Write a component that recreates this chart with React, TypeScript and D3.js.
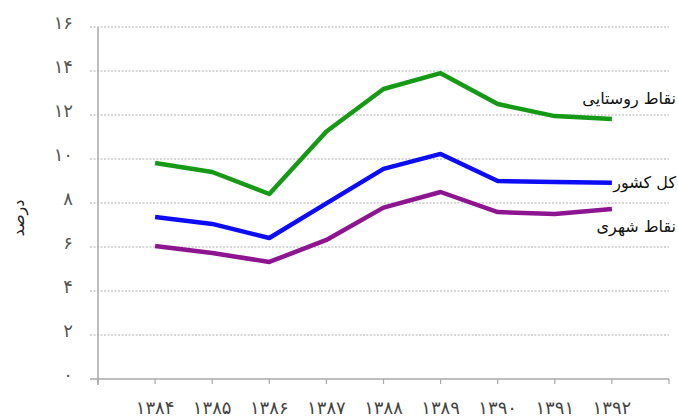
import React from "react";
import * as d3 from "d3";

const years = ["۱۳۸۴", "۱۳۸۵", "۱۳۸۶", "۱۳۸۷", "۱۳۸۸", "۱۳۸۹", "۱۳۹۰", "۱۳۹۱", "۱۳۹۲"];
const rural = [9.82, 9.41, 8.41, 11.25, 13.18, 13.9, 12.5, 11.95, 11.82];
const country = [7.36, 7.05, 6.41, 7.98, 9.55, 10.23, 9.0, 8.95, 8.92];
const urban = [6.05, 5.73, 5.32, 6.32, 7.79, 8.5, 7.59, 7.5, 7.73];
const yTicks = [0, 2, 4, 6, 8, 10, 12, 14, 16];
const yTickLabels = ["۰", "۲", "۴", "۶", "۸", "۱۰", "۱۲", "۱۴", "۱۶"];
const seriesNames = ["نقاط روستایی", "کل کشور", "نقاط شهری"];
const yTitle = "درصد";

const W = 678;
const H = 418;
const font = "'DejaVu Sans', sans-serif";

export default function App() {
  const x = d3.scaleLinear().domain([0, 10]).range([98, 669]);
  const y = d3.scaleLinear().domain([0, 16]).range([379, 27]);
  const line = d3
    .line<number>()
    .x((_, i) => x(i + 1))
    .y((d) => y(d));

  const series = [
    { data: rural, color: "#169a16", name: seriesNames[0], lx: 676, ly: 104 },
    { data: country, color: "#0c0cf5", name: seriesNames[1], lx: 676, ly: 188 },
    { data: urban, color: "#8e1590", name: seriesNames[2], lx: 676, ly: 232 },
  ];

  return (
    <svg
      width={W}
      height={H}
      style={{ position: "absolute", left: 0, top: 0, background: "#fff" }}
    >
      {yTicks.map((t) =>
        t === 0 ? null : (
          <line
            key={"g" + t}
            x1={90}
            x2={669}
            y1={y(t)}
            y2={y(t)}
            stroke="#b0b0b0"
            strokeWidth={1}
            strokeDasharray="2,1.5"
          />
        )
      )}
      <line x1={98} x2={98} y1={y(16)} y2={385} stroke="#a8a8a8" strokeWidth={1.5} />
      <line x1={90} x2={669} y1={y(0)} y2={y(0)} stroke="#a8a8a8" strokeWidth={1.5} />
      {d3.range(0, 11).map((i) => (
        <line
          key={"xt" + i}
          x1={x(i)}
          x2={x(i)}
          y1={y(0)}
          y2={y(0) + 5}
          stroke="#a8a8a8"
          strokeWidth={1.2}
        />
      ))}
      {yTicks.map((t, i) => (
        <text
          key={"yl" + t}
          x={73}
          y={y(t) + 2}
          textAnchor="end"
          fontFamily={font}
          fontSize={18}
          fill="#555"
        >
          {yTickLabels[i]}
        </text>
      ))}
      {years.map((yr, i) => (
        <text
          key={"xl" + yr}
          x={x(i + 1)}
          y={414}
          textAnchor="middle"
          fontFamily={font}
          fontSize={18}
          fill="#444"
        >
          {yr}
        </text>
      ))}
      <text
        transform={`translate(24,218) rotate(-90)`}
        textAnchor="middle"
        fontFamily={font}
        fontSize={16}
        fill="#222"
      >
        {yTitle}
      </text>
      {series.map((s) => (
        <path
          key={s.name}
          d={line(s.data) || ""}
          fill="none"
          stroke={s.color}
          strokeWidth={4.5}
          strokeLinejoin="round"
        />
      ))}
      {series.map((s) => (
        <text
          key={"lab" + s.name}
          x={s.lx}
          y={s.ly}
          textAnchor="end"
          fontFamily={font}
          fontSize={16}
          fill="#111"
        >
          {s.name}
        </text>
      ))}
    </svg>
  );
}
